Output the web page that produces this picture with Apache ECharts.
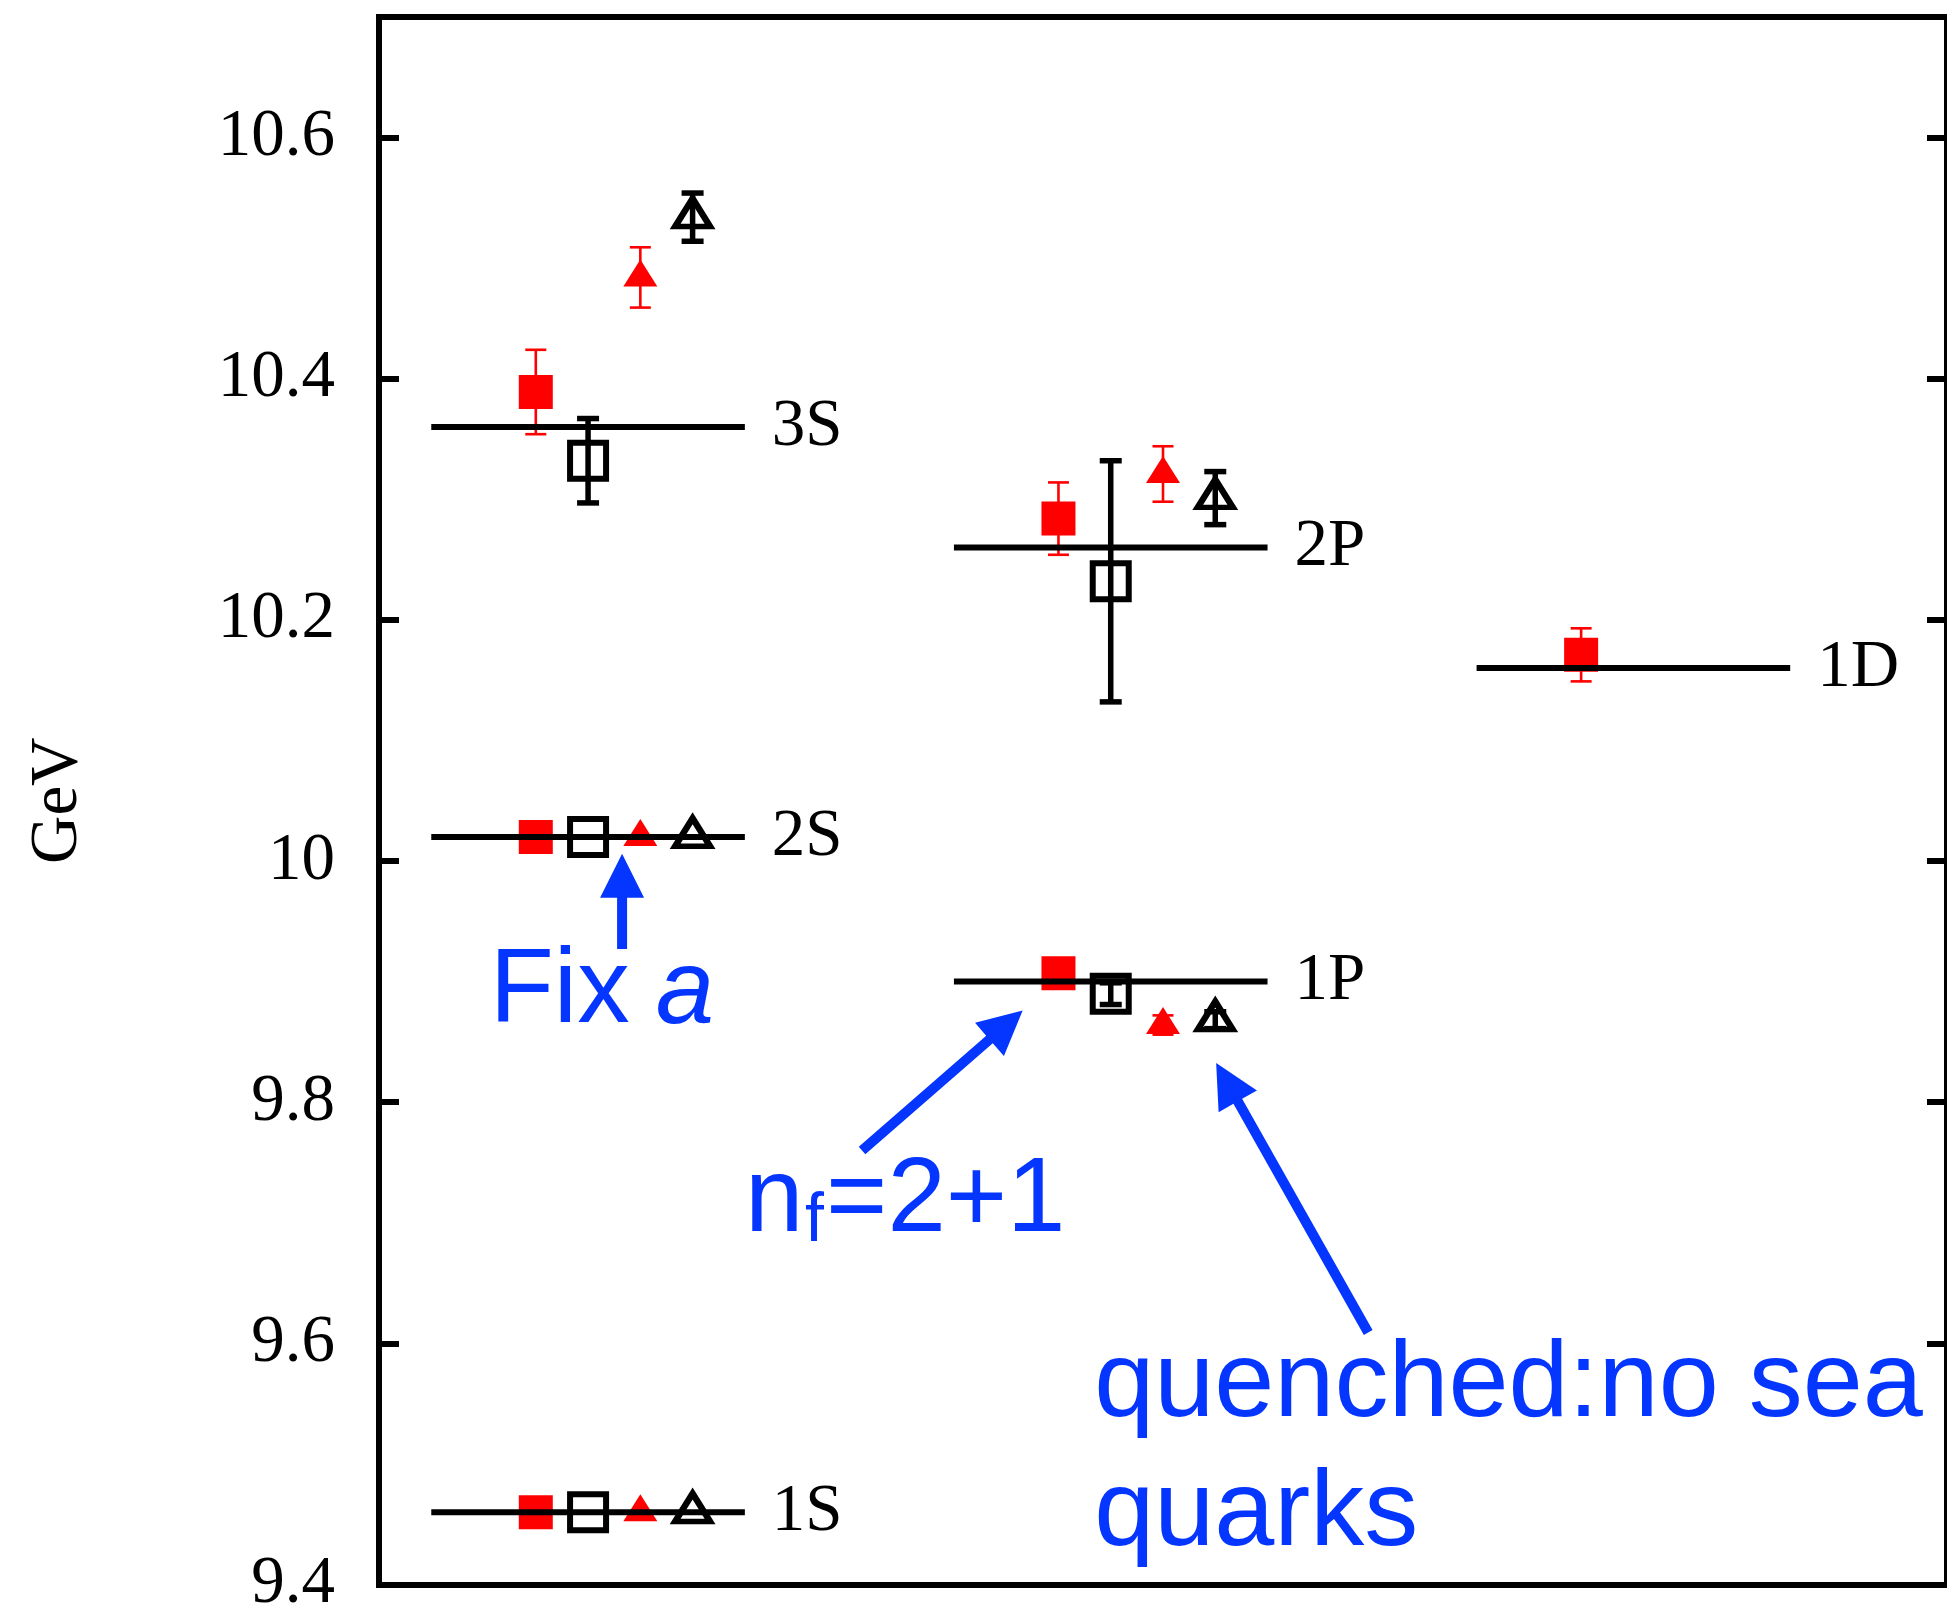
<!DOCTYPE html>
<html>
<head>
<meta charset="utf-8">
<script src="https://cdn.jsdelivr.net/npm/echarts@6/dist/echarts.min.js"></script>
<style>
html, body { margin: 0; padding: 0; background: #fff; overflow: hidden; }
#chart { width: 1947px; height: 1618px; }
</style>
</head>
<body>
<div id="chart"></div>
<script>
// Bottomonium levels: experiment (horizontal bars) against lattice results.
// Horizontal position is a "slot" number: each level group spans 6 slots.

const levelNames = ['1S', '2S', '3S', '1P', '2P', '1D'];
const levelMass  = [9.46, 10.02, 10.36, 9.90, 10.26, 10.16];
const levelSlot  = [4, 4, 4, 14, 14, 24];

// n_f = 2+1, filled squares
const dynSqSlot = [3, 3, 3, 13, 13, 23];
const dynSqMass = [9.46, 10.02, 10.389, 9.907, 10.284, 10.171];
const dynSqErr  = [0, 0, 0.035, 0.006, 0.030, 0.022];

// quenched, open squares
const qSqSlot = [4, 4, 4, 14, 14];
const qSqMass = [9.46, 10.02, 10.332, 9.890, 10.232];
const qSqErr  = [0, 0, 0.035, 0.009, 0.100];

// n_f = 2+1, filled triangles
const dynTriSlot = [5, 5, 5, 15, 15];
const dynTriMass = [9.46, 10.02, 10.484, 9.864, 10.321];
const dynTriErr  = [0, 0, 0.025, 0.008, 0.023];

// quenched, open triangles
const qTriSlot = [6, 6, 6, 16, 16];
const qTriMass = [9.46, 10.02, 10.534, 9.868, 10.301];
const qTriErr  = [0, 0, 0.020, 0.007, 0.022];

const yTickLabels = ['9.4', '9.6', '9.8', '10', '10.2', '10.4', '10.6'];

// Annotation arrows, in data units: [fromSlot, fromMass, toSlot, toMass]
const arrowFrom = [[4.651, 9.927], [9.242, 9.760], [18.926, 9.609]];
const arrowTo   = [[4.651, 10.006], [12.315, 9.876], [16.017, 9.8325]];

// Annotation texts: anchor (left end of the baseline) in data units
const noteAnchor = [[2.118, 9.860], [7.004, 9.687], [13.683, 9.533], [13.683, 9.4267]];
const noteParts = [
  [{ t: 'Fix ', dx: 0, size: 105 }, { t: 'a', dx: 166, size: 105, italic: true }],
  [{ t: 'n', dx: 0, size: 105 }, { t: 'f', dx: 60, dy: 7, size: 68 }, { t: '=2+1', dx: 81, size: 105 }],
  [{ t: 'quenched:no sea', dx: 0, size: 108 }],
  [{ t: 'quarks', dx: 0, size: 108 }]
];

const SERIF = '"Liberation Serif", "Times New Roman", serif';
const SANS = '"Liberation Sans", Arial, Helvetica, sans-serif';
const RED = '#ff0000';
const BLUE = '#0536ff';
const LABEL_SIZE = 67;

const zip = (xs, ys, es) => xs.map((x, i) => es ? [x, ys[i], es[i]] : [x, ys[i]]);

function errorBarRenderer(color, width, capHalf) {
  return function (params, api) {
    const x = api.value(0), m = api.value(1), e = api.value(2);
    if (!(e > 0)) return null;
    const top = api.coord([x, m + e]);
    const bot = api.coord([x, m - e]);
    const st = { stroke: color, lineWidth: width };
    return {
      type: 'group',
      children: [
        { type: 'line', shape: { x1: top[0], y1: top[1], x2: bot[0], y2: bot[1] }, style: st },
        { type: 'line', shape: { x1: top[0] - capHalf, y1: top[1], x2: top[0] + capHalf, y2: top[1] }, style: st },
        { type: 'line', shape: { x1: bot[0] - capHalf, y1: bot[1], x2: bot[0] + capHalf, y2: bot[1] }, style: st }
      ]
    };
  };
}

function levelRenderer(params, api) {
  const x = api.value(0), m = api.value(1);
  const a = api.coord([x - 3, m]);
  const b = api.coord([x + 3, m]);
  return {
    type: 'group',
    children: [
      { type: 'line', shape: { x1: a[0], y1: a[1], x2: b[0], y2: b[1] },
        style: { stroke: '#000', lineWidth: 6 } },
      { type: 'text',
        style: { text: levelNames[params.dataIndex], x: b[0] + 27, y: b[1],
                 font: LABEL_SIZE + 'px ' + SERIF, fill: '#000',
                 align: 'left', verticalAlign: 'middle',
                 textAlign: 'left', textVerticalAlign: 'middle' } }
    ]
  };
}

function arrowRenderer(params, api) {
  const p0 = api.coord([api.value(0), api.value(1)]);
  const p1 = api.coord([api.value(2), api.value(3)]);
  const dx = p1[0] - p0[0], dy = p1[1] - p0[1];
  const L = Math.hypot(dx, dy);
  const ux = dx / L, uy = dy / L, nx = -uy, ny = ux;
  const headLen = 44, headHalf = 22, shaftHalf = 5;
  const bx = p1[0] - ux * headLen, by = p1[1] - uy * headLen;
  const pts = [
    [p0[0] + nx * shaftHalf, p0[1] + ny * shaftHalf],
    [bx + nx * shaftHalf, by + ny * shaftHalf],
    [bx + nx * headHalf, by + ny * headHalf],
    [p1[0], p1[1]],
    [bx - nx * headHalf, by - ny * headHalf],
    [bx - nx * shaftHalf, by - ny * shaftHalf],
    [p0[0] - nx * shaftHalf, p0[1] - ny * shaftHalf]
  ];
  return { type: 'polygon', shape: { points: pts }, style: { fill: BLUE } };
}

function noteRenderer(params, api) {
  const p = api.coord([api.value(0), api.value(1)]);
  const parts = noteParts[params.dataIndex];
  return {
    type: 'group',
    children: parts.map(function (q) {
      // place the alphabetic baseline at the anchor; 'middle' sits ~0.3465em above it
      const baseY = p[1] + (q.dy || 0);
      return {
        type: 'text',
        style: {
          text: q.t, x: p[0] + q.dx, y: baseY - 0.3465 * q.size,
          font: (q.italic ? 'italic ' : '') + q.size + 'px ' + SANS,
          fill: BLUE, align: 'left', verticalAlign: 'middle',
          textAlign: 'left', textVerticalAlign: 'middle'
        }
      };
    })
  };
}

const frameLine = { show: true, onZero: false, lineStyle: { color: '#000', width: 6, cap: 'square' } };

const chart = echarts.init(document.getElementById('chart'), null, { renderer: 'canvas' });

chart.setOption({
  animation: false,
  backgroundColor: '#fff',
  grid: { left: 379, top: 17, width: 1572, height: 1573, containLabel: false },
  xAxis: [
    { type: 'value', min: 0, max: 30, position: 'bottom',
      axisLine: frameLine, axisTick: { show: false }, axisLabel: { show: false }, splitLine: { show: false } },
    { type: 'value', min: 0, max: 30, position: 'top',
      axisLine: frameLine, axisTick: { show: false }, axisLabel: { show: false }, splitLine: { show: false } }
  ],
  yAxis: [
    { type: 'value', min: 9.4, max: 10.7, interval: 0.2, position: 'left',
      name: 'GeV', nameLocation: 'middle', nameGap: 287,
      nameTextStyle: { fontFamily: SERIF, fontSize: LABEL_SIZE, color: '#000' },
      axisLine: frameLine,
      axisTick: { show: true, inside: true, length: 20, lineStyle: { color: '#000', width: 6 } },
      axisLabel: {
        margin: 44, fontFamily: SERIF, fontSize: LABEL_SIZE, color: '#000', showMaxLabel: false,
        formatter: function (v) {
          const s = String(+(+v).toFixed(1));
          return yTickLabels.indexOf(s) >= 0 ? s : '';
        }
      },
      splitLine: { show: false } },
    { type: 'value', min: 9.4, max: 10.7, interval: 0.2, position: 'right',
      axisLine: frameLine,
      axisTick: { show: true, inside: true, length: 20, lineStyle: { color: '#000', width: 6 } },
      axisLabel: { show: false }, splitLine: { show: false } }
  ],
  series: [
    { name: 'nf=2+1 (square)', type: 'scatter', z: 2,
      data: zip(dynSqSlot, dynSqMass), symbol: 'rect', symbolSize: 34,
      itemStyle: { color: RED, opacity: 1 } },
    { name: 'quenched (square)', type: 'scatter', z: 2,
      data: zip(qSqSlot, qSqMass), symbol: 'rect', symbolSize: 36,
      itemStyle: { color: '#fff', borderColor: '#000', borderWidth: 6, borderJoin: 'miter', opacity: 1 } },
    { name: 'nf=2+1 (triangle)', type: 'scatter', z: 2,
      data: zip(dynTriSlot, dynTriMass), symbol: 'triangle', symbolSize: [34, 27], symbolOffset: [0, -4.5],
      itemStyle: { color: RED, opacity: 1 } },
    { name: 'quenched (triangle)', type: 'scatter', z: 2,
      data: zip(qTriSlot, qTriMass), symbol: 'triangle', symbolSize: [35, 28], symbolOffset: [0, -4.7],
      itemStyle: { color: '#fff', borderColor: '#000', borderWidth: 6, borderJoin: 'miter', opacity: 1 } },
    { name: 'nf=2+1 errors', type: 'custom', z: 3, encode: { x: 0, y: 1 },
      data: zip(dynSqSlot, dynSqMass, dynSqErr).concat(zip(dynTriSlot, dynTriMass, dynTriErr)),
      renderItem: errorBarRenderer(RED, 2.6, 10.5) },
    { name: 'quenched errors', type: 'custom', z: 3, encode: { x: 0, y: 1 },
      data: zip(qSqSlot, qSqMass, qSqErr).concat(zip(qTriSlot, qTriMass, qTriErr)),
      renderItem: errorBarRenderer('#000', 5.5, 11) },
    { name: 'experiment', type: 'custom', z: 4, encode: { x: 0, y: 1 },
      data: zip(levelSlot, levelMass), renderItem: levelRenderer },
    { name: 'arrows', type: 'custom', z: 5, encode: { x: [0, 2], y: [1, 3] },
      data: arrowFrom.map((f, i) => [f[0], f[1], arrowTo[i][0], arrowTo[i][1]]),
      renderItem: arrowRenderer },
    { name: 'notes', type: 'custom', z: 5, encode: { x: 0, y: 1 },
      data: noteAnchor, renderItem: noteRenderer }
  ]
});
</script>
</body>
</html>
